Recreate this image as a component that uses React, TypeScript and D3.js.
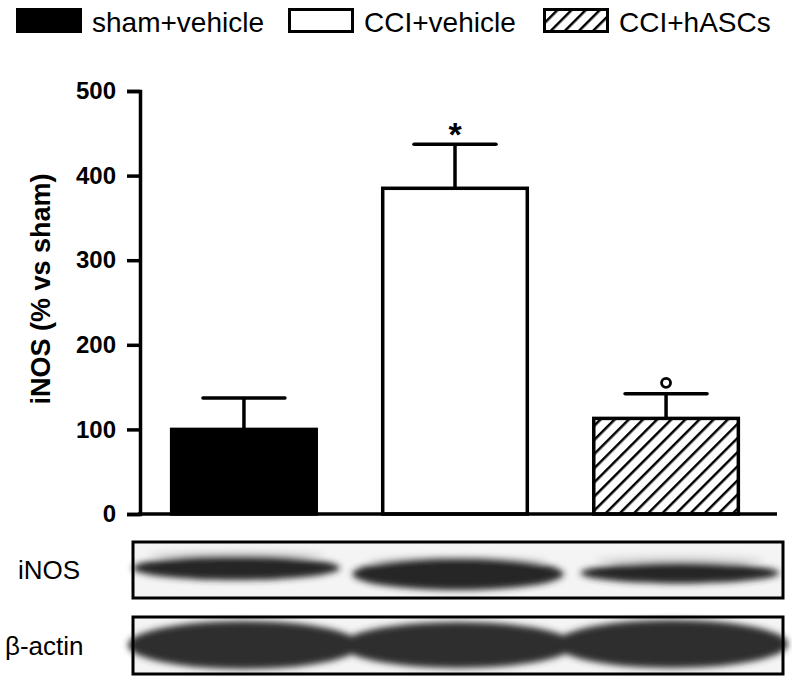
import { useEffect, useRef } from "react";
import * as d3 from "d3";

const groups = ["sham+vehicle", "CCI+vehicle", "CCI+hASCs"];
const means = [100, 385, 113];
const sems = [37, 52, 29];
const marks = ["", "*", "°"];
const yTicks = [0, 100, 200, 300, 400, 500];

// western blot band strengths (relative) per lane
const blotRows = ["iNOS", "β-actin"];
const inosBand = [0.72, 1.0, 0.6];
const actinBand = [1.0, 0.95, 1.0];

const FONT = "'Liberation Sans', Arial, Helvetica, sans-serif";

export default function App() {
  const ref = useRef<SVGSVGElement>(null);

  useEffect(() => {
    const el = ref.current;
    if (!el) return;
    const svg = d3.select(el);
    svg.selectAll("*").remove();

    const defs = svg.append("defs");
    const pat = defs
      .append("pattern")
      .attr("id", "hatch")
      .attr("patternUnits", "userSpaceOnUse")
      .attr("width", 10)
      .attr("height", 10)
      .attr("patternTransform", "rotate(45)");
    pat.append("rect").attr("width", 10).attr("height", 10).attr("fill", "#fff");
    pat.append("line").attr("x1", 0).attr("y1", 0).attr("x2", 0).attr("y2", 10)
      .attr("stroke", "#000").attr("stroke-width", 5);

    defs.append("filter").attr("id", "blur").attr("x", "-20%").attr("y", "-50%")
      .attr("width", "140%").attr("height", "200%")
      .append("feGaussianBlur").attr("stdDeviation", 3);

    const x = d3.scaleBand<string>().domain(groups).range([140, 770])
      .paddingInner(0.315).paddingOuter(0.15);
    const y = d3.scaleLinear().domain([0, 500]).range([514, 91]);

    const fills = ["#000", "#fff", "url(#hatch)"];

    // legend
    const legendX = [16, 288, 543];
    const legend = svg.append("g");
    groups.forEach((g, i) => {
      legend.append("rect").attr("x", legendX[i] + 1.5).attr("y", 9.5)
        .attr("width", 63).attr("height", 22).attr("fill", fills[i])
        .attr("stroke", "#000").attr("stroke-width", 3);
      legend.append("text").attr("x", legendX[i] + 76).attr("y", 32)
        .attr("font-family", FONT).attr("font-size", 28).text(g);
    });

    // bars
    const bars = svg.append("g");
    groups.forEach((g, i) => {
      const bx = x(g)!;
      const bw = x.bandwidth();
      const cx = bx + bw / 2;
      // error bar
      bars.append("line").attr("x1", cx).attr("x2", cx)
        .attr("y1", y(means[i])).attr("y2", y(means[i] + sems[i]))
        .attr("stroke", "#000").attr("stroke-width", 3.5);
      bars.append("line").attr("x1", cx - 41).attr("x2", cx + 41)
        .attr("y1", y(means[i] + sems[i])).attr("y2", y(means[i] + sems[i]))
        .attr("stroke", "#000").attr("stroke-width", 3.5).attr("stroke-linecap", "round");
      bars.append("rect").attr("x", bx).attr("y", y(means[i]))
        .attr("width", bw).attr("height", y(0) - y(means[i]))
        .attr("fill", fills[i]).attr("stroke", "#000").attr("stroke-width", 3.5);
      if (marks[i] === "*") {
        bars.append("text").attr("x", cx).attr("y", y(means[i] + sems[i]) + 2)
          .attr("text-anchor", "middle").attr("font-family", FONT)
          .attr("font-weight", "bold").attr("font-size", 34).text("*");
      } else if (marks[i] === "°") {
        bars.append("circle").attr("cx", cx).attr("cy", y(means[i] + sems[i]) - 11)
          .attr("r", 4.5).attr("fill", "none").attr("stroke", "#000").attr("stroke-width", 2.8);
      }
    });

    // axes
    const yAxis = svg.append("g").attr("transform", "translate(140,0)")
      .call(d3.axisLeft(y).tickValues(yTicks).tickSize(13).tickPadding(11));
    yAxis.select(".domain").attr("stroke-width", 3.5);
    yAxis.selectAll(".tick line").attr("stroke-width", 3.5);
    yAxis.selectAll(".tick text").attr("font-family", FONT)
      .attr("font-weight", "bold").attr("font-size", 24).attr("fill", "#000");
    yAxis.selectAll("path,line").attr("stroke", "#000");

    svg.append("line").attr("x1", 138).attr("x2", 777).attr("y1", y(0)).attr("y2", y(0))
      .attr("stroke", "#000").attr("stroke-width", 3.5);

    svg.append("text").attr("transform", `translate(50,${289}) rotate(-90)`)
      .attr("text-anchor", "middle").attr("font-family", FONT)
      .attr("font-weight", "bold").attr("font-size", 27).text("iNOS (% vs sham)");

    // western blots
    const lane = d3.scaleBand<string>().domain(groups).range([134, 782]).padding(0.03);
    const boxes = [
      { top: 542, bottom: 598, label: blotRows[0], data: inosBand },
      { top: 617, bottom: 674, label: blotRows[1], data: actinBand },
    ];
    boxes.forEach((b, r) => {
      const g = svg.append("g");
      g.append("rect").attr("x", 133).attr("y", b.top).attr("width", 650)
        .attr("height", b.bottom - b.top).attr("fill", "#f4f4f4");
      const bandG = g.append("g").attr("filter", "url(#blur)");
      groups.forEach((gr, i) => {
        const lx = lane(gr)!;
        const lw = lane.bandwidth();
        const s = b.data[i];
        if (r === 0) {
          const cy = [568, 574, 573][i];
          const rx = [lw * 0.5, lw * 0.51, lw * 0.48][i];
          const ry = 2 + 14 * s;
          const dx = [-8, 0, 8][i];
          bandG.append("ellipse").attr("cx", lx + lw / 2 + dx).attr("cy", cy - 13)
            .attr("rx", rx * 0.85).attr("ry", 5).attr("fill", "#c8c8c8").attr("opacity", 0.6);
          bandG.append("ellipse").attr("cx", lx + lw / 2 + dx).attr("cy", cy)
            .attr("rx", rx).attr("ry", ry).attr("fill", "#262626");
        } else {
          bandG.append("ellipse").attr("cx", lx + lw / 2).attr("cy", 645 + (i === 2 ? -1 : 0))
            .attr("rx", lw * 0.56).attr("ry", 21 * s + 3).attr("fill", "#2e2e2e");
        }
      });
      g.append("rect").attr("x", 133).attr("y", b.top).attr("width", 650)
        .attr("height", b.bottom - b.top).attr("fill", "none")
        .attr("stroke", "#000").attr("stroke-width", 3);
      g.append("text").attr("x", r === 0 ? 18 : 5).attr("y", (b.top + b.bottom) / 2 + 9)
        .attr("font-family", FONT).attr("font-size", 26).text(b.label);
    });
  }, []);

  return (
    <svg
      ref={ref}
      width={792}
      height={682}
      style={{ position: "absolute", left: 0, top: 0, background: "#fff" }}
    />
  );
}
